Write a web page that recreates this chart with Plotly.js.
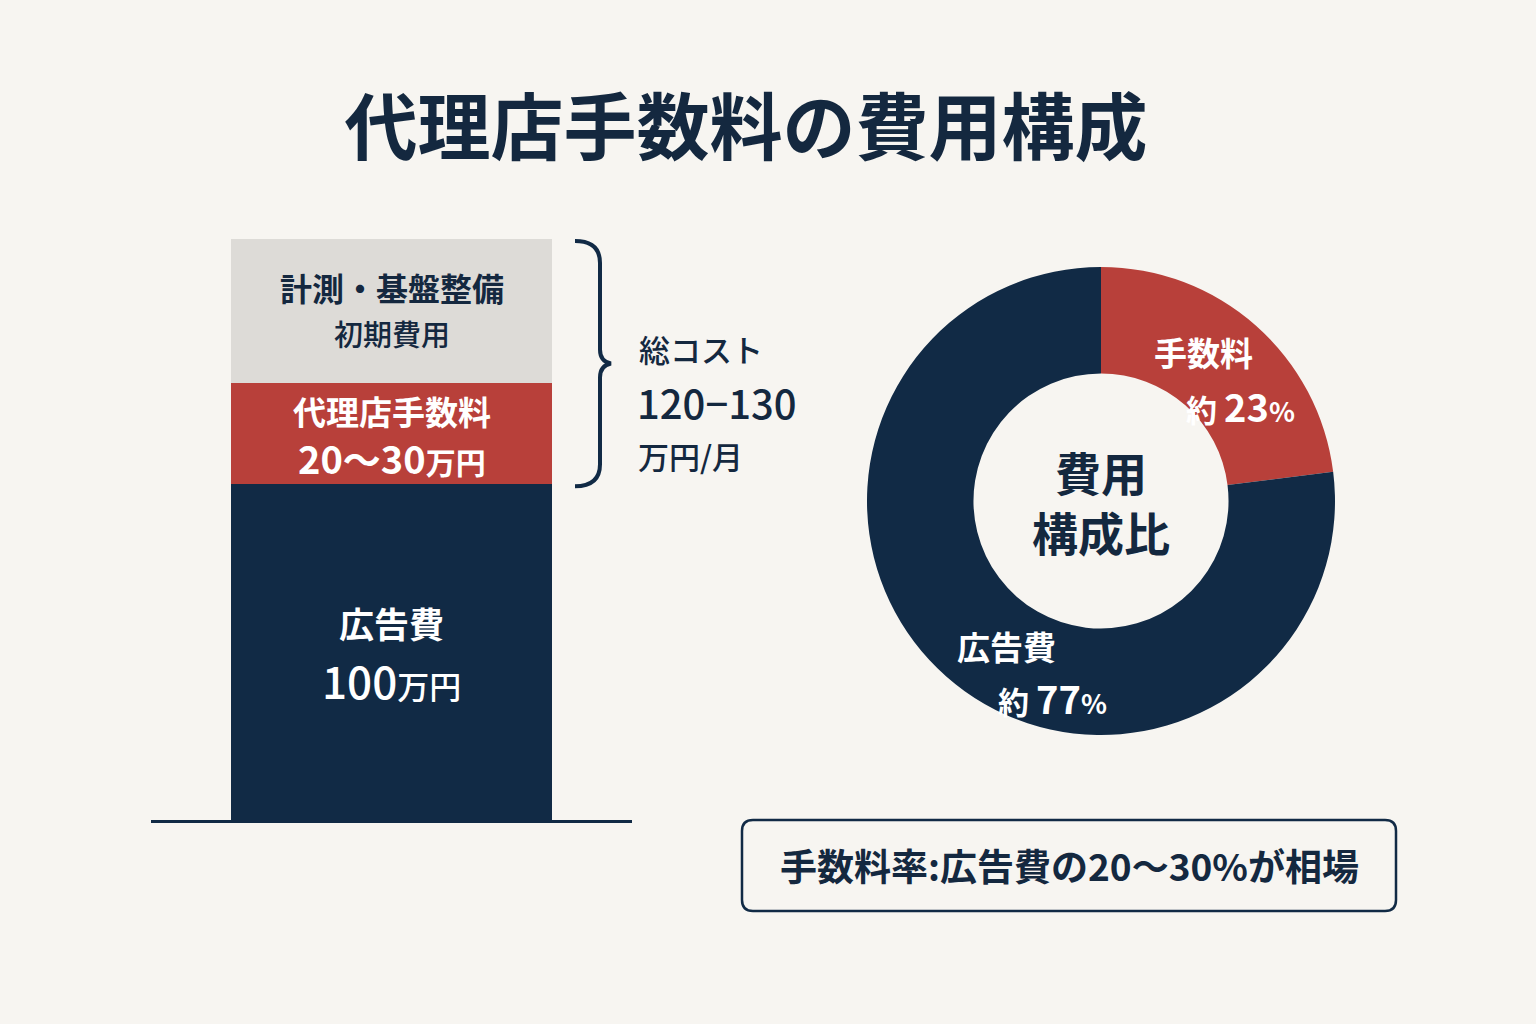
<!DOCTYPE html>
<html>
<head>
<meta charset="utf-8">
<script src="https://cdn.plot.ly/plotly-3.0.1.min.js"></script>
<style>
  html, body { margin: 0; padding: 0; background: #f7f5f1; }
  #chart { width: 1536px; height: 1024px; }
</style>
</head>
<body>
<div id="chart"></div>
<script>
// Monthly cost stack (万円), bottom to top
const segmentNames  = ['広告費', '代理店手数料', '計測・基盤整備'];
const segmentValues = [100, 30, 43];
const segmentNotes  = ['100', '20〜30', '初期費用'];

// Total cost callout
const totalLines = ['総コスト', '120−130', '万円/月'];

// Share of spend (%)
const shareNames  = ['手数料', '広告費'];
const shareValues = [23, 77];

const chartTitle  = '代理店手数料の費用構成';
const donutCenter = ['費用', '構成比'];
const footnote    = '手数料率:広告費の20〜30%が相場';

const NAVY = '#112a45', RED = '#b8403a', GRAY = '#dddbd7', INK = '#14283f', BG = '#f7f5f1';
const FONT = '"Noto Sans CJK JP", "Noto Sans", sans-serif';
const W = 1536, H = 1024;
const px = x => x / W;
const py = y => 1 - y / H;

const segColors = [NAVY, RED, GRAY];

// Stacked bar
const barTraces = segmentValues.map((v, i) => ({
  type: 'bar',
  x: [0],
  y: [v],
  width: [1],
  name: segmentNames[i],
  marker: { color: segColors[i], line: { width: 0 } },
  hoverinfo: 'skip',
  showlegend: false,
  xaxis: 'x', yaxis: 'y'
}));

const total = segmentValues.reduce((a, b) => a + b, 0);

// Donut
const pieTrace = {
  type: 'pie',
  labels: shareNames,
  values: shareValues,
  sort: false,
  direction: 'clockwise',
  rotation: 0,
  hole: 0.545,
  textinfo: 'none',
  hoverinfo: 'skip',
  showlegend: false,
  marker: { colors: [RED, NAVY], line: { width: 0 } },
  domain: { x: [px(867), px(1335)], y: [py(735), py(267)] }
};

const annotations = [];
const white = '#ffffff';

function note(opts) {
  annotations.push(Object.assign({ showarrow: false, xanchor: 'center', yanchor: 'middle' }, opts));
}

// Segment labels, placed at each segment's middle
let base = 0;
const mids = segmentValues.map(v => { const m = base + v / 2; base += v; return m; });

// 広告費
note({ xref: 'x', yref: 'y', x: 0, y: mids[0], yshift: 30,
  text: segmentNames[0], font: { family: FONT, size: 35, color: white, weight: 700 } });
note({ xref: 'x', yref: 'y', x: 0, y: mids[0], yshift: -28,
  text: segmentNotes[0] + '<span style="font-size:32px">万円</span>',
  font: { family: FONT, size: 44, color: white, weight: 500 } });
// 代理店手数料
note({ xref: 'x', yref: 'y', x: 0, y: mids[1], yshift: 23,
  text: segmentNames[1], font: { family: FONT, size: 33, color: white, weight: 700 } });
note({ xref: 'x', yref: 'y', x: 0, y: mids[1], yshift: -24,
  text: segmentNotes[1] + '<span style="font-size:30px">万円</span>',
  font: { family: FONT, size: 38, color: white, weight: 700 } });
// 計測・基盤整備
note({ xref: 'x', yref: 'y', x: 0, y: mids[2], yshift: 24,
  text: segmentNames[2], font: { family: FONT, size: 32, color: INK, weight: 700 } });
note({ xref: 'x', yref: 'y', x: 0, y: mids[2], yshift: -22,
  text: segmentNotes[2], font: { family: FONT, size: 29, color: INK, weight: 500 } });

// Total cost text beside the brace
const braceTop = segmentValues[0];
note({ xref: 'paper', yref: 'paper', x: px(637), y: py(348), xanchor: 'left',
  text: totalLines[0], font: { family: FONT, size: 31, color: INK, weight: 500 } });
note({ xref: 'paper', yref: 'paper', x: px(635), y: py(402), xanchor: 'left',
  text: totalLines[1], font: { family: FONT, size: 40, color: INK, weight: 500 } });
note({ xref: 'paper', yref: 'paper', x: px(636), y: py(455), xanchor: 'left',
  text: totalLines[2], font: { family: FONT, size: 31, color: INK, weight: 500 } });

// Donut labels
const pctText = v => '約 <span style="font-size:38px">' + v + '</span><span style="font-size:27px">%</span>';
note({ xref: 'paper', yref: 'paper', x: px(1203), y: py(352),
  text: shareNames[0], font: { family: FONT, size: 33, color: white, weight: 700 } });
note({ xref: 'paper', yref: 'paper', x: px(1240), y: py(405),
  text: pctText(shareValues[0]), font: { family: FONT, size: 31, color: white, weight: 700 } });
note({ xref: 'paper', yref: 'paper', x: px(1006), y: py(646),
  text: shareNames[1], font: { family: FONT, size: 33, color: white, weight: 700 } });
note({ xref: 'paper', yref: 'paper', x: px(1052), y: py(697),
  text: pctText(shareValues[1]), font: { family: FONT, size: 31, color: white, weight: 700 } });

// Donut centre
note({ xref: 'paper', yref: 'paper', x: px(1101), y: py(501),
  text: donutCenter.join('<br>'), font: { family: FONT, size: 46, color: INK, weight: 700 } });

// Footnote
note({ xref: 'paper', yref: 'paper', x: px(1069), y: py(865),
  text: footnote, font: { family: FONT, size: 37, color: INK, weight: 700 } });

// Brace spanning the fee and setup segments
function bracePath(yTopPx, yBotPx) {
  const xl = 575, xs = 600, xt = 611;
  const ym = (yTopPx + yBotPx) / 2;
  const pts = [
    `M ${px(xl)} ${py(yTopPx)}`,
    `Q ${px(xs)} ${py(yTopPx)} ${px(xs)} ${py(yTopPx + 22)}`,
    `L ${px(xs)} ${py(ym - 14)}`,
    `Q ${px(xs)} ${py(ym - 2)} ${px(xt)} ${py(ym)}`,
    `Q ${px(xs)} ${py(ym + 2)} ${px(xs)} ${py(ym + 14)}`,
    `L ${px(xs)} ${py(yBotPx - 22)}`,
    `Q ${px(xs)} ${py(yBotPx)} ${px(xl)} ${py(yBotPx)}`
  ];
  return pts.join(' ');
}

function roundRect(x0, y0, x1, y1, r) {
  return [
    `M ${px(x0 + r)} ${py(y0)}`,
    `L ${px(x1 - r)} ${py(y0)}`,
    `Q ${px(x1)} ${py(y0)} ${px(x1)} ${py(y0 + r)}`,
    `L ${px(x1)} ${py(y1 - r)}`,
    `Q ${px(x1)} ${py(y1)} ${px(x1 - r)} ${py(y1)}`,
    `L ${px(x0 + r)} ${py(y1)}`,
    `Q ${px(x0)} ${py(y1)} ${px(x0)} ${py(y1 - r)}`,
    `L ${px(x0)} ${py(y0 + r)}`,
    `Q ${px(x0)} ${py(y0)} ${px(x0 + r)} ${py(y0)}`,
    'Z'
  ].join(' ');
}

// Bar plot area in pixels
const barBottom = 820, barTopPx = 239;
const yToPx = v => barBottom - (v / total) * (barBottom - barTopPx);

const shapes = [
  { type: 'path', xref: 'paper', yref: 'paper',
    path: bracePath(yToPx(total) + 2, yToPx(braceTop) + 2),
    line: { color: NAVY, width: 4 } },
  { type: 'path', xref: 'paper', yref: 'paper',
    path: roundRect(742, 820, 1396, 911, 11),
    line: { color: NAVY, width: 2.5 }, fillcolor: 'rgba(0,0,0,0)' }
];

const layout = {
  width: W, height: H,
  margin: { l: 0, r: 0, t: 0, b: 0 },
  paper_bgcolor: BG, plot_bgcolor: BG,
  barmode: 'stack', bargap: 0,
  title: { text: chartTitle, x: px(746), xanchor: 'center', y: py(128), yanchor: 'middle',
    font: { family: FONT, size: 73, color: INK, weight: 700 } },
  xaxis: { domain: [px(151), px(632)], range: [-0.75, 0.75], showline: true, linecolor: NAVY,
    linewidth: 3, showticklabels: false, showgrid: false, zeroline: false, ticks: '', fixedrange: true },
  yaxis: { domain: [py(barBottom), py(barTopPx)], range: [0, total], visible: false,
    showgrid: false, zeroline: false, fixedrange: true },
  annotations, shapes,
  font: { family: FONT }
};

Plotly.newPlot('chart', [...barTraces, pieTrace], layout, { staticPlot: true, displayModeBar: false });
</script>
</body>
</html>
